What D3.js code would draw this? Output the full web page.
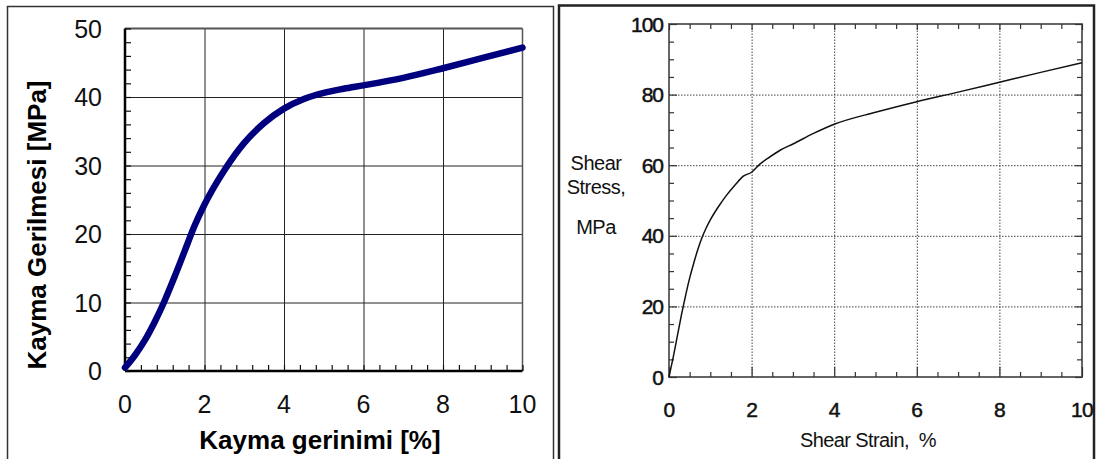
<!DOCTYPE html>
<html>
<head>
<meta charset="utf-8">
<script src="https://d3js.org/d3.v7.min.js"></script>
<style>
  body { margin: 0; background: #fff; }
  svg { display: block; font-family: "Liberation Sans", Arial, sans-serif; }
  .minor .domain, .grid .domain { stroke: none; }
</style>
</head>
<body>
<svg id="chart" width="1105" height="459"></svg>
<script>
// left chart (Turkish labels)
const leftStrain = [0, 0.25, 0.5, 0.75, 1.0, 1.25, 1.5, 1.75, 2.0, 2.5, 3.0, 3.5, 4.0, 4.5, 5.0, 5.5, 6.0, 7.0, 8.0, 9.0, 10.0];
const leftStress = [0.5, 2.3, 4.5, 7.2, 10.3, 13.8, 17.5, 21.2, 24.3, 29.3, 33.3, 36.2, 38.3, 39.7, 40.6, 41.2, 41.7, 42.8, 44.2, 45.7, 47.2];
const leftXTicks = [0, 2, 4, 6, 8, 10];
const leftYTicks = [0, 10, 20, 30, 40, 50];

// right chart (English labels)
const rightStrain = [0, 0.1, 0.2, 0.3, 0.4, 0.5, 0.6, 0.7, 0.8, 0.9, 1.0, 1.2, 1.4, 1.6, 1.8, 2.0, 2.2, 2.4, 2.7, 3.0, 3.5, 4.0, 5.0, 6.0, 7.0, 8.0, 9.0, 10.0];
const rightStress = [0, 5.5, 11.5, 17.5, 23, 28, 32.3, 36.2, 39.5, 42.2, 44.5, 48.3, 51.6, 54.4, 56.9, 58.0, 60.3, 62.0, 64.3, 66.0, 69.0, 71.6, 75.0, 78.0, 80.7, 83.5, 86.3, 89.0];
const rightXTicks = [0, 2, 4, 6, 8, 10];
const rightYTicks = [0, 20, 40, 60, 80, 100];

const svg = d3.select("svg#chart");

// ---------- panel borders ----------
svg.append("rect").attr("x", 7.5).attr("y", 6.5).attr("width", 546).attr("height", 470)
   .attr("fill", "none").attr("stroke", "#333").attr("stroke-width", 1.5);
svg.append("rect").attr("x", 559).attr("y", 5.5).attr("width", 535).attr("height", 470)
   .attr("fill", "none").attr("stroke", "#222").attr("stroke-width", 2.5);

// ---------- left panel ----------
const xL = d3.scaleLinear().domain([0, 10]).range([125, 522.5]);
const yL = d3.scaleLinear().domain([0, 50]).range([371, 28.5]);
const left = svg.append("g").attr("id", "left");

left.append("g").attr("class", "grid")
    .attr("transform", `translate(0,${yL(0)})`)
    .call(d3.axisBottom(xL).tickValues(leftXTicks.slice(1, -1)).tickSize(-(yL(0) - yL(50))).tickFormat(""))
    .selectAll("line").attr("stroke", "#222").attr("stroke-width", 1);
left.append("g").attr("class", "grid")
    .attr("transform", `translate(${xL(0)},0)`)
    .call(d3.axisLeft(yL).tickValues(leftYTicks.slice(1, -1)).tickSize(-(xL(10) - xL(0))).tickFormat(""))
    .selectAll("line").attr("stroke", "#222").attr("stroke-width", 1);

// frame top/right
left.append("line").attr("x1", xL(0)).attr("x2", xL(10)).attr("y1", yL(50)).attr("y2", yL(50))
    .attr("stroke", "#555").attr("stroke-width", 2);
left.append("line").attr("x1", xL(10)).attr("x2", xL(10)).attr("y1", yL(50)).attr("y2", yL(0))
    .attr("stroke", "#555").attr("stroke-width", 1.5);

// minor ticks (inward)
left.append("g").attr("class", "minor")
    .attr("transform", `translate(0,${yL(0)})`)
    .call(d3.axisBottom(xL).tickValues(d3.range(0, 10.01, 0.4)).tickSize(-6).tickFormat(""))
    .selectAll("line").attr("stroke", "#111").attr("stroke-width", 1.2);
left.append("g").attr("class", "minor")
    .attr("transform", `translate(${xL(0)},0)`)
    .call(d3.axisLeft(yL).tickValues(d3.range(0, 50.01, 2)).tickSize(-6).tickFormat(""))
    .selectAll("line").attr("stroke", "#111").attr("stroke-width", 1.2);

// axis lines
left.append("line").attr("x1", xL(0)).attr("x2", xL(10)).attr("y1", yL(0)).attr("y2", yL(0))
    .attr("stroke", "#000").attr("stroke-width", 2.5);
left.append("line").attr("x1", xL(0)).attr("x2", xL(0)).attr("y1", yL(50)).attr("y2", yL(0))
    .attr("stroke", "#000").attr("stroke-width", 2.5);

// tick labels
left.selectAll("text.xl").data(leftXTicks).join("text").attr("class", "xl")
    .attr("x", d => xL(d)).attr("y", yL(0) + 42)
    .attr("text-anchor", "middle").attr("font-size", 25).attr("fill", "#111")
    .text(d => d);
left.selectAll("text.yl").data(leftYTicks).join("text").attr("class", "yl")
    .attr("x", xL(0) - 23).attr("y", d => yL(d) + 9)
    .attr("text-anchor", "end").attr("font-size", 25).attr("fill", "#111")
    .text(d => d);

left.append("text").attr("x", 320).attr("y", 449)
    .attr("text-anchor", "middle").attr("font-size", 26).attr("font-weight", "bold")
    .text("Kayma gerinimi [%]");
left.append("text").attr("transform", `translate(46,225) rotate(-90)`)
    .attr("text-anchor", "middle").attr("font-size", 26).attr("font-weight", "bold")
    .text("Kayma Gerilmesi [MPa]");

const leftData = leftStrain.map((s, i) => [s, leftStress[i]]);
left.append("path").datum(leftData)
    .attr("fill", "none").attr("stroke", "#00007f").attr("stroke-width", 6.5)
    .attr("stroke-linecap", "round")
    .attr("d", d3.line().x(d => xL(d[0])).y(d => yL(d[1])).curve(d3.curveMonotoneX));

// ---------- right panel ----------
const xR = d3.scaleLinear().domain([0, 10]).range([669, 1082]);
const yR = d3.scaleLinear().domain([0, 100]).range([377, 24]);
const right = svg.append("g").attr("id", "right");

right.append("g").attr("class", "grid")
    .attr("transform", `translate(0,${yR(0)})`)
    .call(d3.axisBottom(xR).tickValues(rightXTicks.slice(1, -1)).tickSize(-(yR(0) - yR(100))).tickFormat(""))
    .selectAll("line").attr("stroke", "#444").attr("stroke-width", 1).attr("stroke-dasharray", "1.5,1.5");
right.append("g").attr("class", "grid")
    .attr("transform", `translate(${xR(0)},0)`)
    .call(d3.axisLeft(yR).tickValues(rightYTicks.slice(1, -1)).tickSize(-(xR(10) - xR(0))).tickFormat(""))
    .selectAll("line").attr("stroke", "#444").attr("stroke-width", 1).attr("stroke-dasharray", "1.5,1.5");

right.append("rect").attr("x", xR(0)).attr("y", yR(100))
    .attr("width", xR(10) - xR(0)).attr("height", yR(0) - yR(100))
    .attr("fill", "none").attr("stroke", "#555").attr("stroke-width", 1.8);

const minorX = d3.range(0.5, 10, 0.5).filter(v => v % 2 !== 0);
const minorY = d3.range(5, 100, 5).filter(v => v % 20 !== 0);
function rTicks(axis, scale, pos, vals, size) {
  right.append("g").attr("class", "minor")
      .attr("transform", pos)
      .call(axis(scale).tickValues(vals).tickSize(size).tickFormat(""))
      .selectAll("line").attr("stroke", "#333").attr("stroke-width", 1.2);
}
rTicks(d3.axisBottom, xR, `translate(0,${yR(0)})`, minorX, -5);
rTicks(d3.axisBottom, xR, `translate(0,${yR(0)})`, rightXTicks, -10);
rTicks(d3.axisTop, xR, `translate(0,${yR(100)})`, minorX, -5);
rTicks(d3.axisTop, xR, `translate(0,${yR(100)})`, rightXTicks, -6);
rTicks(d3.axisLeft, yR, `translate(${xR(0)},0)`, minorY, -5);
rTicks(d3.axisLeft, yR, `translate(${xR(0)},0)`, rightYTicks, -8);
rTicks(d3.axisRight, yR, `translate(${xR(10)},0)`, minorY, -5);
rTicks(d3.axisRight, yR, `translate(${xR(10)},0)`, rightYTicks, -7);

right.selectAll("text.xr").data(rightXTicks).join("text").attr("class", "xr")
    .attr("x", d => xR(d)).attr("y", 417)
    .attr("text-anchor", "middle").attr("font-size", 21).attr("fill", "#111")
    .attr("stroke", "#111").attr("stroke-width", 0.5).attr("letter-spacing", -0.8)
    .text(d => d);
right.selectAll("text.yr").data(rightYTicks).join("text").attr("class", "yr")
    .attr("x", 663).attr("y", d => yR(d) + 7.5)
    .attr("text-anchor", "end").attr("font-size", 21).attr("fill", "#111")
    .attr("stroke", "#111").attr("stroke-width", 0.5).attr("letter-spacing", -1)
    .text(d => d);

right.append("text").attr("x", 868).attr("y", 447)
    .attr("text-anchor", "middle").attr("font-size", 20).attr("fill", "#111")
    .attr("letter-spacing", -0.6).style("white-space", "pre")
    .text("Shear Strain,  %");
[["Shear", 170], ["Stress,", 194], ["MPa", 234]].forEach(([t, y]) => {
  right.append("text").attr("x", 596).attr("y", y)
      .attr("text-anchor", "middle").attr("font-size", 20).attr("fill", "#111")
      .attr("letter-spacing", -0.5).text(t);
});

const rightData = rightStrain.map((s, i) => [s, rightStress[i]]);
right.append("path").datum(rightData)
    .attr("fill", "none").attr("stroke", "#111").attr("stroke-width", 1.5)
    .attr("d", d3.line().x(d => xR(d[0])).y(d => yR(d[1])).curve(d3.curveMonotoneX));
</script>
</body>
</html>
